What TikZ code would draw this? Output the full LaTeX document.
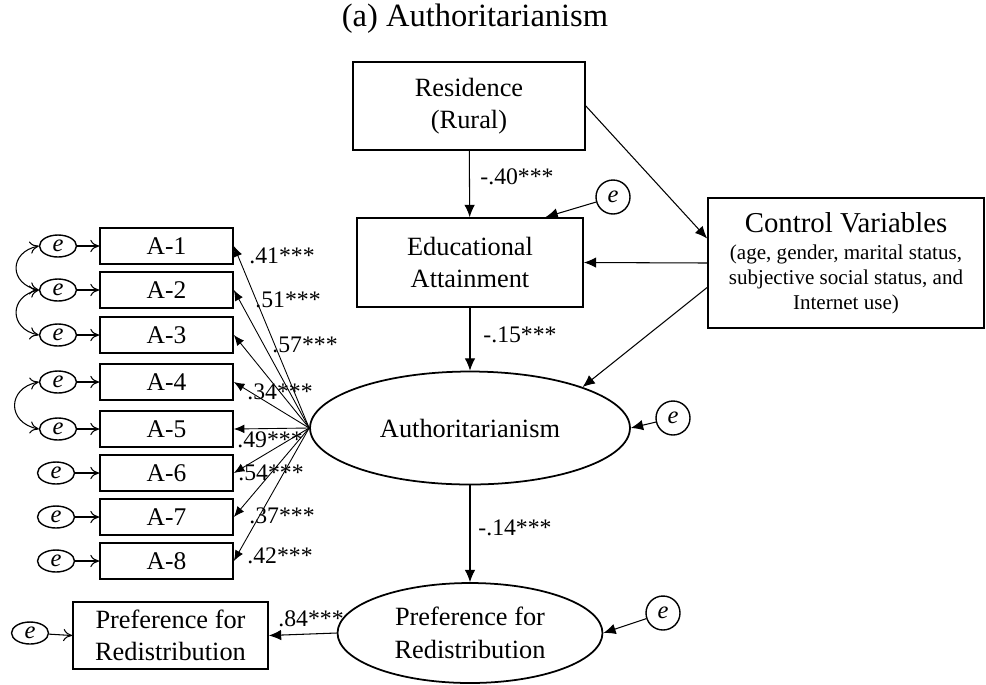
\documentclass[tikz,border=0pt]{standalone}
\usepackage{fontspec}
\setmainfont{Liberation Serif}
\usetikzlibrary{arrows.meta,shapes.geometric}

\begin{document}
\begin{tikzpicture}[x=0.02cm, y=-0.02cm,
    box/.style={draw, line width=1pt, align=center, inner sep=0pt, font=\fontsize{15}{18.5}\selectfont},
    lat/.style={draw, ellipse, line width=1pt, align=center, inner sep=0pt, font=\fontsize{15}{18.5}\selectfont},
    item/.style={draw, line width=1pt, minimum width=2.66cm, minimum height=0.72cm, inner sep=0pt, font=\fontsize{14.5}{16}\selectfont},
    err/.style={draw, circle, line width=0.8pt, minimum size=0.68cm, inner sep=0pt, font=\fontsize{14}{16}\selectfont\itshape},
    erritem/.style={draw, ellipse, line width=0.8pt, minimum width=0.74cm, minimum height=0.44cm, inner sep=0pt, font=\fontsize{14}{16}\selectfont\itshape},
    coef/.style={font=\fontsize{13.5}{15}\selectfont, inner sep=0pt},
    path/.style={-{Latex[length=7pt,width=6pt]}, line width=0.6pt},
    load/.style={-{Latex[length=6pt,width=5pt]}, line width=0.5pt},
    open/.style={-{To[length=5pt,width=7pt]}, line width=0.6pt},
    cov/.style={{To[length=5pt,width=7pt]}-{To[length=5pt,width=7pt]}, line width=0.6pt}]
    \useasboundingbox (0,0) rectangle (986,684);

    % title
    \node (title) at (475,19) {\fontsize{18.5}{21}\selectfont (a) Authoritarianism};

    % structural part
    \node[box, minimum width=4.64cm, minimum height=1.76cm] (res) at (469,106) {Residence\\(Rural)};
    \node[box, minimum width=4.52cm, minimum height=1.78cm] (edu) at (470,262.5) {Educational\\Attainment};
    \node[box, minimum width=5.52cm, minimum height=2.6cm, font=\fontsize{12}{14.2}\selectfont] (cv) at (846,263)
        {{\fontsize{16.4}{19}\selectfont Control Variables}\\[1.5pt]
         (age, gender, marital status,\\
         subjective social status, and\\
         Internet use)};
    \node[lat, minimum width=6.4cm, minimum height=2.26cm] (auth) at (470,428) {Authoritarianism};
    \node[lat, minimum width=5.3cm, minimum height=2cm] (pref) at (470,633) {Preference for\\Redistribution};
    \node[box, minimum width=3.9cm, minimum height=1.34cm] (prefobs) at (170.5,635.5) {Preference for\\Redistribution};

    \node[err] (eedu) at (613,197) {e};
    \node[err] (eauth) at (673,418) {e};
    \node[err] (epref) at (663,613) {e};
    \node[erritem] (eprefobs) at (30,633) {e};

    \draw[path] (res) -- (edu);
    \draw[path] (res.east) -- (cv.170);
    \draw[path] (cv.west) -- (edu.east);
    \draw[path] (cv.190) -- (auth.20);
    \draw[path] (edu) -- (auth);
    \draw[path] (auth) -- (pref);
    \draw[path] (eedu) -- (edu.31);
    \draw[path] (eauth) -- (auth.east);
    \draw[path] (epref) -- (pref.east);
    \draw[path] (pref.west) -- (prefobs.east);
    \draw[open] (eprefobs) -- (prefobs.west);

    \node[coef] (c40) at (517,177) {-.40***};
    \node[coef] (c15) at (520,335) {-.15***};
    \node[coef] (c14) at (515,528) {-.14***};
    \node[coef] (c84) at (311,619) {.84***};

    % indicators
    \foreach \i/\y/\ex/\lx/\ly/\v in {1/246/58/282/256/.41, 2/290/58/288/300/.51,
        3/335/58/305/345/.57, 4/382/58/280/392/.34, 5/429/58/270/440/.49,
        6/473/56/271/473/.54, 7/517/56/282/516/.37, 8/561/56/280/556/.42} {
        \node[item] (a\i) at (166.5,\y) {A-\i};
        \node[erritem] (ea\i) at (\ex,\y) {e};
        \draw[open] (ea\i) -- (a\i);
        \draw[load] (auth.west) -- (a\i.east);
        \node[coef] (l\i) at (\lx,\ly) {\v***};
    }

    % error covariances
    \draw[cov] (ea1.west) .. controls +(-30,6) and +(-30,-6) .. (ea2.west);
    \draw[cov] (ea2.west) .. controls +(-30,6) and +(-30,-6) .. (ea3.west);
    \draw[cov] (ea4.west) .. controls +(-32,6) and +(-32,-6) .. (ea5.west);
\end{tikzpicture}
\end{document}
